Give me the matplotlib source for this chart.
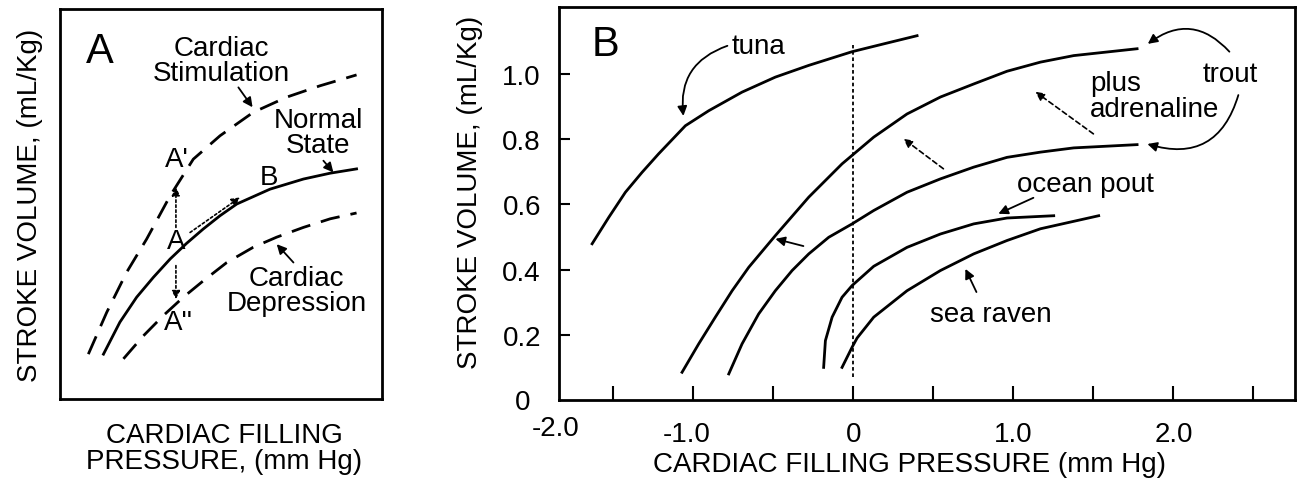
import matplotlib
matplotlib.use('Agg')
import matplotlib.pyplot as plt
import matplotlib.transforms as mtransforms
import numpy as np

plt.rcParams['font.family'] = ['Liberation Sans', 'DejaVu Sans']
FS = 20

# ---- panel A (arbitrary units, 0-10) ----
stim_x = [0.88, 1.45, 2.07, 2.69, 3.42, 4.14, 4.97, 6.00, 7.04, 8.07, 9.21]
stim_y = [1.15, 2.22, 3.25, 4.10, 5.21, 6.15, 6.75, 7.35, 7.74, 8.03, 8.31]
norm_x = [1.35, 1.86, 2.38, 2.90, 3.42, 3.93, 4.45, 4.97, 5.49, 6.52, 7.56, 8.39, 9.21]
norm_y = [1.15, 1.97, 2.61, 3.12, 3.59, 3.99, 4.36, 4.70, 5.00, 5.38, 5.64, 5.79, 5.90]
depr_x = [1.97, 2.59, 3.21, 3.83, 4.45, 5.18, 6.00, 6.73, 7.56, 8.39, 9.21]
depr_y = [1.03, 1.62, 2.14, 2.61, 3.03, 3.50, 3.89, 4.15, 4.40, 4.62, 4.77]

# ---- panel B (mm Hg, mL/Kg) ----
tuna_x = [-1.633, -1.529, -1.425, -1.321, -1.217, -1.05, -0.904, -0.696, -0.488,
	-0.279, -0.008, 0.19, 0.398]
tuna_y = [0.479, 0.560, 0.637, 0.698, 0.755, 0.841, 0.887, 0.944, 0.990,
	1.026, 1.068, 1.092, 1.117]
trout_adr_x = [-1.071, -0.967, -0.863, -0.758, -0.654, -0.488, -0.279, -0.071, 0.127,
	0.335, 0.544, 0.752, 0.96, 1.169, 1.377, 1.773]
trout_adr_y = [0.085, 0.172, 0.254, 0.335, 0.407, 0.504, 0.622, 0.724, 0.806,
	0.877, 0.929, 0.969, 1.008, 1.036, 1.056, 1.077]
trout_x = [-0.779, -0.696, -0.592, -0.488, -0.383, -0.279, -0.154, -0.008, 0.127,
	0.335, 0.544, 0.752, 0.96, 1.169, 1.377, 1.773]
trout_y = [0.080, 0.172, 0.264, 0.335, 0.397, 0.448, 0.499, 0.540, 0.581,
	0.637, 0.678, 0.714, 0.744, 0.760, 0.773, 0.783]
pout_x = [-0.186, -0.175, -0.133, -0.071, -0.008, 0.127, 0.335, 0.544,
	0.752, 0.96, 1.252]
pout_y = [0.100, 0.182, 0.254, 0.315, 0.351, 0.410, 0.468, 0.509,
	0.540, 0.558, 0.565]
raven_x = [-0.071, -0.008, 0.023, 0.127, 0.335, 0.544, 0.752, 0.96,
	1.169, 1.533]
raven_y = [0.100, 0.162, 0.190, 0.254, 0.335, 0.397, 0.448, 0.489,
	0.525, 0.565]

xticks_b = [-1.5, -1.0, -0.5, 0.0, 0.5, 1.0, 1.5, 2.0, 2.5]
xticklabels_b = ['', '-1.0', '', '0', '', '1.0', '', '2.0', '']
yticks_b = [0.2, 0.4, 0.6, 0.8, 1.0]
yticklabels_b = ['0.2', '0.4', '0.6', '0.8', '1.0']

fig = plt.figure(figsize=(12.98, 4.85), dpi=100)

# ================= panel A =================
axa = fig.add_axes([60/1298, 85/485, 322/1298, 390/485])
axa.set_xlim(0, 10)
axa.set_ylim(0, 10)
axa.set_xticks([])
axa.set_yticks([])
for s in axa.spines.values():
	s.set_linewidth(2)

dash = (0, (7, 4))
axa.plot(stim_x, stim_y, color='black', lw=2, linestyle=dash)
axa.plot(norm_x, norm_y, color='black', lw=2)
axa.plot(depr_x, depr_y, color='black', lw=2, linestyle=dash)

axa.text(1.24, 8.93, 'A', fontsize=30, ha='center', va='center')
axa.text(5.02, 8.67, 'Cardiac\nStimulation', fontsize=FS, ha='center', va='center', linespacing=0.95)
axa.text(8.02, 6.84, 'Normal\nState', fontsize=FS, ha='center', va='center', linespacing=0.95)
axa.text(7.35, 2.78, 'Cardiac\nDepression', fontsize=FS, ha='center', va='center', linespacing=0.95)
axa.text(3.62, 6.15, "A'", fontsize=FS, ha='center', va='center')
axa.text(6.50, 5.68, 'B', fontsize=FS, ha='center', va='center')
axa.text(3.60, 4.06, 'A', fontsize=FS, ha='center', va='center')
axa.text(3.67, 1.97, "A''", fontsize=FS, ha='center', va='center')

solid = dict(arrowstyle='-|>', color='black', lw=1.3, mutation_scale=14, shrinkA=0, shrinkB=0)
dotted = dict(arrowstyle='-|>', color='black', lw=1.2, linestyle=(0, (1.5, 1.5)), mutation_scale=12, shrinkA=0, shrinkB=0)
axa.annotate('', xy=(5.98, 7.48), xytext=(5.54, 7.99), arrowprops=solid)
axa.annotate('', xy=(8.49, 5.81), xytext=(8.18, 6.11), arrowprops=solid)
axa.annotate('', xy=(6.73, 3.97), xytext=(7.25, 3.50), arrowprops=solid)
axa.annotate('', xy=(3.60, 5.43), xytext=(3.60, 4.40), arrowprops=dotted)
axa.annotate('', xy=(3.60, 2.56), xytext=(3.60, 3.42), arrowprops=dotted)
axa.annotate('', xy=(5.59, 5.17), xytext=(4.04, 4.27), arrowprops=dotted)

axa.text(-0.093, 0.5, 'STROKE VOLUME, (mL/Kg)', fontsize=FS, rotation=90,
	ha='center', va='center', transform=axa.transAxes)
axa.text(0.51, -0.126, 'CARDIAC FILLING\nPRESSURE, (mm Hg)', fontsize=FS,
	ha='center', va='center', transform=axa.transAxes, linespacing=1.0)

# ================= panel B =================
axb = fig.add_axes([559/1298, 84/485, 736/1298, 393/485])
axb.set_xlim(-1.84, 2.76)
axb.set_ylim(0, 1.205)
for s in axb.spines.values():
	s.set_linewidth(2)

axb.plot(tuna_x, tuna_y, color='black', lw=2)
axb.plot(trout_adr_x, trout_adr_y, color='black', lw=2)
axb.plot(trout_x, trout_y, color='black', lw=2)
axb.plot(pout_x, pout_y, color='black', lw=2)
axb.plot(raven_x, raven_y, color='black', lw=2)
axb.plot([0, 0], [0.07, 1.087], color='black', lw=1.3, linestyle=(0, (2, 1.5)))

axb.set_xticks(xticks_b)
axb.set_xticklabels(xticklabels_b)
axb.set_yticks(yticks_b)
axb.set_yticklabels(yticklabels_b)
axb.tick_params(axis='x', direction='in', length=10, width=1.5, labelsize=FS, pad=15)
axb.tick_params(axis='y', direction='in', length=8, width=1.5, labelsize=FS, pad=13)
shift = mtransforms.ScaledTranslation(-7/100, 0, fig.dpi_scale_trans)
for lab in axb.get_xticklabels():
	if lab.get_text().startswith('-'):
		lab.set_transform(lab.get_transform() + shift)

# corner labels
axb.text(-0.005, -0.07, '-2.0', fontsize=FS, ha='center', va='center', transform=axb.transAxes)
axb.text(-0.05, -0.005, '0', fontsize=FS, ha='center', va='center', transform=axb.transAxes)

axb.text(-1.55, 1.092, 'B', fontsize=30, ha='center', va='center')
axb.text(-0.594, 1.086, 'tuna', fontsize=FS, ha='center', va='center')
axb.text(2.356, 1.0, 'trout', fontsize=FS, ha='center', va='center')
axb.text(1.48, 0.972, 'plus', fontsize=FS, ha='left', va='center')
axb.text(1.48, 0.893, 'adrenaline', fontsize=FS, ha='left', va='center')
axb.text(1.45, 0.663, 'ocean pout', fontsize=FS, ha='center', va='center')
axb.text(0.856, 0.264, 'sea raven', fontsize=FS, ha='center', va='center')

curved = dict(arrowstyle='-|>', color='black', lw=1.3, mutation_scale=14, shrinkA=0, shrinkB=0)
axb.annotate('', xy=(-1.0625, 0.871), xytext=(-0.7875, 1.086),
	arrowprops=dict(curved, connectionstyle='arc3,rad=0.4'))
axb.annotate('', xy=(1.84, 1.092), xytext=(2.35, 1.068),
	arrowprops=dict(curved, connectionstyle='arc3,rad=0.45'))
axb.annotate('', xy=(1.8375, 0.785), xytext=(2.406, 0.935),
	arrowprops=dict(curved, connectionstyle='arc3,rad=-0.5'))
axb.annotate('', xy=(-0.4875, 0.494), xytext=(-0.3125, 0.472), arrowprops=solid)
axb.annotate('', xy=(0.906, 0.571), xytext=(1.125, 0.62), arrowprops=solid)
axb.annotate('', xy=(0.7, 0.402), xytext=(0.769, 0.331), arrowprops=solid)
dashed = dict(arrowstyle='-|>', color='black', lw=1.2, linestyle=(0, (3, 2)), mutation_scale=13, shrinkA=0, shrinkB=0)
axb.annotate('', xy=(1.1375, 0.945), xytext=(1.5, 0.816), arrowprops=dashed)
axb.annotate('', xy=(0.3125, 0.801), xytext=(0.5625, 0.709), arrowprops=dashed)

axb.text(-0.121, 0.53, 'STROKE VOLUME, (mL/Kg)', fontsize=FS, rotation=90,
	ha='center', va='center', transform=axb.transAxes)
axb.text(0.476, -0.163, 'CARDIAC FILLING PRESSURE (mm Hg)', fontsize=FS,
	ha='center', va='center', transform=axb.transAxes)

fig.savefig('out.png', dpi=100)
